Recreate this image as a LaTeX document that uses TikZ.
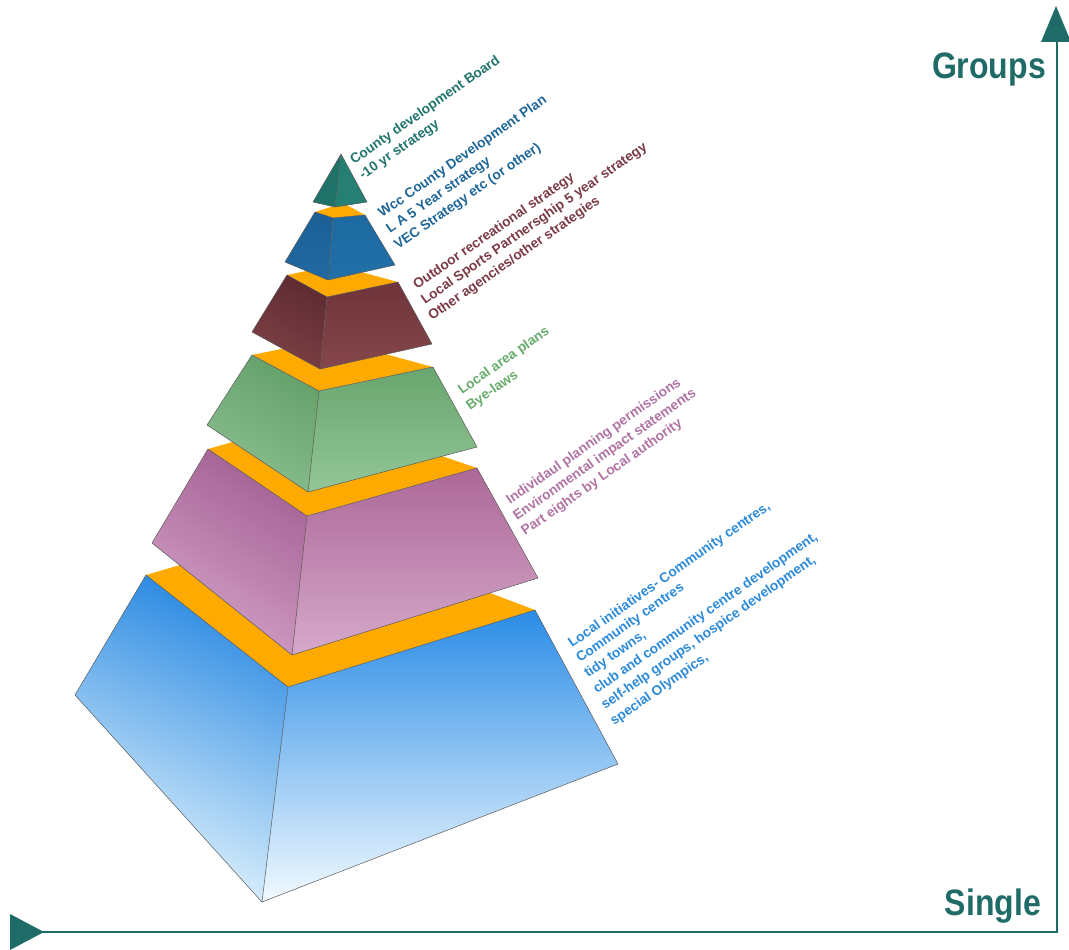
\documentclass[tikz,border=0pt]{standalone}
\usepackage{fontspec}
\usepackage{graphicx}
\setmainfont{Liberation Sans}
\definecolor{orangetop}{HTML}{FFAA00}
\definecolor{axiscol}{HTML}{1F6B68}
\definecolor{baseTop}{HTML}{2A8CE6}
\definecolor{baseBot}{HTML}{F2FAFF}
\definecolor{baseTopL}{HTML}{2888E2}
\definecolor{baseBotL}{HTML}{E6F6FE}
\definecolor{pinkTop}{HTML}{AC6898}
\definecolor{pinkBot}{HTML}{D6A9CA}
\definecolor{pinkTopL}{HTML}{A46094}
\definecolor{pinkBotL}{HTML}{D4A2C7}
\definecolor{greenTop}{HTML}{69A56E}
\definecolor{greenBot}{HTML}{93C697}
\definecolor{greenTopL}{HTML}{64A06A}
\definecolor{greenBotL}{HTML}{8CBF90}
\definecolor{marTop}{HTML}{6E3439}
\definecolor{marBot}{HTML}{86474C}
\definecolor{marTopL}{HTML}{5E2B31}
\definecolor{marBotL}{HTML}{7E4147}
\definecolor{blTop}{HTML}{1D6AA1}
\definecolor{blBot}{HTML}{2270A8}
\definecolor{blTopL}{HTML}{1A6096}
\definecolor{blBotL}{HTML}{2069A0}
\definecolor{tipR}{HTML}{267F73}
\definecolor{tipL}{HTML}{1F7268}
\definecolor{txTeal}{HTML}{21756D}
\definecolor{txBlue}{HTML}{1E6699}
\definecolor{txMar}{HTML}{7B3B45}
\definecolor{txGreen}{HTML}{67AC6C}
\definecolor{txPink}{HTML}{B073A3}
\definecolor{txSky}{HTML}{2C8AD8}
\begin{document}
\begin{tikzpicture}[x=1pt,y=-1pt,
  edge/.style={draw=black!65, line width=0.5pt, line join=round},
  toporange/.style={fill=orangetop},
  lbl/.style={anchor=base west, inner sep=0pt, rotate=35, font=\bfseries\fontsize{13.7}{16}\selectfont},
  axisline/.style={draw=axiscol, line width=2.6pt, line join=miter},
  axislabel/.style={anchor=base east, inner sep=0pt, text=axiscol, font=\bfseries\fontsize{32}{36}\selectfont}
  ]
\useasboundingbox (0,0) rectangle (1069,950);

% ---------- base layer (sky blue)
\coordinate (aL) at (146,575); \coordinate (aF) at (288,687); \coordinate (aR) at (535,610); \coordinate (aB) at (313,526);
\coordinate (aLb) at (75,695); \coordinate (aFb) at (262,902); \coordinate (aRb) at (618,764);
\fill[toporange] (aL)--(aF)--(aR)--(aB)--cycle;
\shade[top color=baseTop, bottom color=baseBot] (aF)--(aR)--(aRb)--(aFb)--cycle;
\shade[top color=baseTopL, bottom color=baseBotL, shading angle=-22] (aL)--(aF)--(aFb)--(aLb)--cycle;
\draw[edge] (aL)--(aF)--(aR)--(aRb)--(aFb)--(aLb)--cycle (aF)--(aFb);

% ---------- pink layer
\coordinate (bL) at (208,449); \coordinate (bF) at (307,516); \coordinate (bR) at (477,468); \coordinate (bB) at (324,416);
\coordinate (bLb) at (152,543); \coordinate (bFb) at (292,655); \coordinate (bRb) at (538,578);
\fill[toporange] (bL)--(bF)--(bR)--(bB)--cycle;
\shade[top color=pinkTop, bottom color=pinkBot] (bF)--(bR)--(bRb)--(bFb)--cycle;
\shade[top color=pinkTopL, bottom color=pinkBotL, shading angle=-30] (bL)--(bF)--(bFb)--(bLb)--cycle;
\draw[edge] (bL)--(bF)--(bR)--(bRb)--(bFb)--(bLb)--cycle (bF)--(bFb);

% ---------- green layer
\coordinate (cL) at (252,355); \coordinate (cF) at (319,391); \coordinate (cR) at (433,367); \coordinate (cB) at (330,339);
\coordinate (cLb) at (207,425); \coordinate (cFb) at (308,492); \coordinate (cRb) at (477,447);
\fill[toporange] (cL)--(cF)--(cR)--(cB)--cycle;
\shade[top color=greenTop, bottom color=greenBot] (cF)--(cR)--(cRb)--(cFb)--cycle;
\shade[top color=greenTopL, bottom color=greenBotL, shading angle=-30] (cL)--(cF)--(cFb)--(cLb)--cycle;
\draw[edge] (cL)--(cF)--(cR)--(cRb)--(cFb)--(cLb)--cycle (cF)--(cFb);

% ---------- maroon layer
\coordinate (dL) at (287,275); \coordinate (dF) at (327,297); \coordinate (dR) at (398,282); \coordinate (dB) at (335,265);
\coordinate (dLb) at (252,332); \coordinate (dFb) at (320,369); \coordinate (dRb) at (432,344);
\fill[toporange] (dL)--(dF)--(dR)--(dB)--cycle;
\shade[top color=marTop, bottom color=marBot] (dF)--(dR)--(dRb)--(dFb)--cycle;
\shade[top color=marTopL, bottom color=marBotL, shading angle=-30] (dL)--(dF)--(dFb)--(dLb)--cycle;
\draw[edge] (dL)--(dF)--(dR)--(dRb)--(dFb)--(dLb)--cycle (dF)--(dFb);

% ---------- dark blue layer
\coordinate (eL) at (315,212); \coordinate (eF) at (333,218); \coordinate (eR) at (365,215); \coordinate (eB) at (343,203);
\coordinate (eLb) at (285,262); \coordinate (eFb) at (328,280); \coordinate (eRb) at (395,265);
\fill[toporange] (eL)--(eF)--(eR)--(eB)--cycle;
\shade[top color=blTop, bottom color=blBot] (eF)--(eR)--(eRb)--(eFb)--cycle;
\shade[top color=blTopL, bottom color=blBotL] (eL)--(eF)--(eFb)--(eLb)--cycle;
\draw[edge] (eL)--(eF)--(eR)--(eRb)--(eFb)--(eLb)--cycle (eF)--(eFb);

% ---------- tip
\coordinate (fA) at (341,154); \coordinate (fLb) at (313,202); \coordinate (fFb) at (335,207); \coordinate (fRb) at (367,202);
\fill[tipL] (fA)--(fFb)--(fLb)--cycle;
\fill[tipR] (fA)--(fFb)--(fRb)--cycle;
\draw[edge] (fA)--(fRb)--(fFb)--(fLb)--cycle (fA)--(fFb);

% ---------- labels
\node[lbl, text=txTeal] (t1a) at (354,165) {County development Board};
\node[lbl, text=txTeal] (t1b) at (363,180) {-10 yr strategy};

\node[lbl, text=txBlue] (t2a) at (382,218) {Wcc County Development Plan};
\node[lbl, text=txBlue] (t2b) at (390,234) {L A 5 Year strategy};
\node[lbl, text=txBlue] (t2c) at (398,250) {VEC Strategy etc (or other)};

\node[lbl, text=txMar] (t3a) at (417,290) {Outdoor recreational strategy};
\node[lbl, text=txMar] (t3b) at (425,305) {Local Sports Partnersghip 5 year strategy};
\node[lbl, text=txMar] (t3c) at (432,321) {Other agencies/other strategies};

\node[lbl, text=txGreen] (t4a) at (462,395) {Local area plans};
\node[lbl, text=txGreen] (t4b) at (470,411) {Bye-laws};

\node[lbl, text=txPink] (t5a) at (510,505) {Individaul planning permissions};
\node[lbl, text=txPink] (t5b) at (517,521) {Environmental impact statements};
\node[lbl, text=txPink] (t5c) at (525,536) {Part eights by Local authority};

\node[lbl, text=txSky] (t6a) at (572,648) {Local initiatives- Community centres,};
\node[lbl, text=txSky] (t6b) at (580,663) {Community centres};
\node[lbl, text=txSky] (t6c) at (588,678) {tidy towns,};
\node[lbl, text=txSky] (t6d) at (597,694) {club and community centre development,};
\node[lbl, text=txSky] (t6e) at (605,710) {self-help groups, hospice development,};
\node[lbl, text=txSky] (t6f) at (614,726) {special Olympics,};

% ---------- axes
\coordinate (xstart) at (40,932);
\coordinate (corner) at (1057,932);
\coordinate (yend) at (1057,40);
\draw[axisline] (xstart) -- (corner) -- (yend);
\fill[axiscol] (1056,6) -- (1071,42) -- (1041,42) -- cycle;
\fill[axiscol] (44,932) -- (10,914) -- (10,950) -- cycle;

\node[axislabel] (groups) at (1046,78) {\scalebox{1}[1.15]{Groups}};
\node[axislabel] (single) at (1041,915) {\scalebox{1}[1.15]{Single}};
\end{tikzpicture}
\end{document}
